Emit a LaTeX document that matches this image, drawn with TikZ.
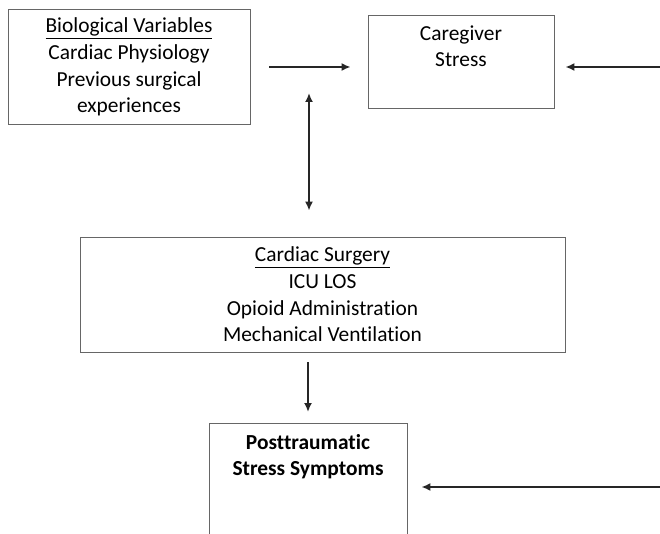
\documentclass[tikz,border=0pt]{standalone}
\usepackage{fontspec}
\setmainfont{Carlito}[Ligatures={NoCommon,NoContextual}]
\usepackage{tikz}
\usetikzlibrary{arrows.meta, calc}

\begin{document}
\begin{tikzpicture}[x=1pt, y=-1pt,
  box/.style={draw=black!60, line width=0.8pt, align=center,
    font=\fontsize{21.4}{26.7}\selectfont},
  flow/.style={-{Latex[length=9pt,width=8pt]}, line width=1.8pt, draw=black!85}]
 \useasboundingbox (0,0) rectangle (660,534);
 \clip (0,0) rectangle (660,534);
 \node[box, minimum width=242, minimum height=115] (bio) at (129,67)
   {\underline{Biological Variables}\\Cardiac Physiology\\Previous surgical\\experiences};
 \node[box, minimum width=186, inner ysep=10, text depth=32, anchor=north] (care) at (461,15)
   {Caregiver\\Stress};
 \node[box, minimum width=485, minimum height=115] (surg) at (322.5,294.5)
   {\underline{Cardiac Surgery}\\ICU LOS\\Opioid Administration\\Mechanical Ventilation};
 \node[box, minimum width=198, inner ysep=11, text depth=80, anchor=north, font=\fontsize{21.4}{26}\selectfont\bfseries] (pts) at (308,423)
   {Posttraumatic\\Stress Symptoms};
%
 \coordinate (rt1) at (660,67);
 \coordinate (rt2) at (660,487);
 \coordinate (jn) at ($(bio.east)!0.5!(bio.east -| care.west)$);
%
 \draw[flow, shorten <=19pt, shorten >=17pt] (bio.east) -- (bio.east -| care.west);
 \draw[flow, shorten >=11pt] (rt1) -- (rt1 -| care.east);
 \draw[flow, {Latex[length=9pt,width=8pt]}-{Latex[length=9pt,width=8pt]}, shorten <=26pt, shorten >=26pt] (surg.north -| jn) -- (jn);
 \draw[flow, shorten <=10pt, shorten >=11pt] (pts.north |- surg.south) -- (pts.north);
 \draw[flow, shorten >=14pt] (rt2) -- (rt2 -| pts.east);
\end{tikzpicture}
\end{document}
